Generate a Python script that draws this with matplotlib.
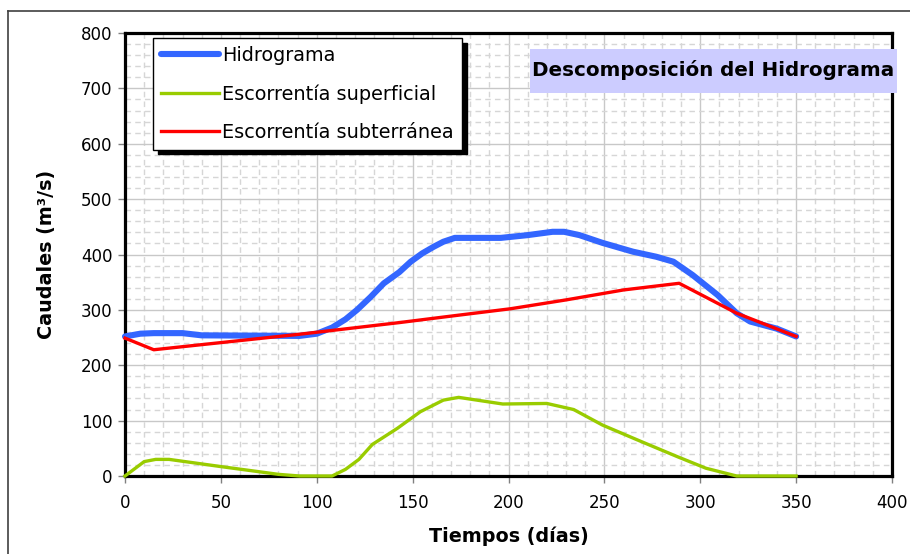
import matplotlib
matplotlib.use('Agg')
import matplotlib.pyplot as plt
from matplotlib.patches import Rectangle
from matplotlib.lines import Line2D
from matplotlib.ticker import MultipleLocator

plt.rcParams['font.family'] = ['DejaVu Sans']

# ---- data ----
dias_hidro = [0, 8, 15, 30, 40, 91, 100, 108, 115, 121, 128, 135, 143, 149, 155, 161,
              166, 172, 196, 210, 223, 229, 237, 249, 265, 277, 286, 296, 309, 319,
              326, 340, 350]
q_hidro = [252, 257, 258, 258, 254, 253, 257, 268, 283, 300, 323, 348, 368, 387, 402, 414,
           423, 430, 430, 435, 441, 441, 435, 421, 405, 396, 387, 363, 327, 294,
           279, 266, 252]

dias_sup = [0, 10, 16, 23, 50, 80, 91, 108, 115, 122, 129, 142, 154, 166, 174, 197,
            220, 234, 249, 268, 288, 303, 319, 350]
q_sup = [0, 26, 30, 30, 17, 3, 0, 0, 12, 30, 57, 86, 116, 137, 142, 130,
         131, 120, 92, 64, 35, 14, 0, 0]

dias_sub = [0, 15, 91, 143, 166, 201, 230, 260, 289, 319, 350]
q_sub = [249, 228, 256, 277, 287, 302, 318, 336, 348, 294, 252]

labels = ['Hidrograma', 'Escorrentía superficial', 'Escorrentía subterránea']
colors = ['#3366FF', '#99CC00', '#FF0000']

W, H = 910, 554
fig = plt.figure(figsize=(W / 100, H / 100), dpi=100)
ax = fig.add_axes([125 / W, 1 - 476 / H, (892 - 125) / W, (476 - 33) / H])
ax.set_xlim(0, 400)
ax.set_ylim(0, 800)
ax.xaxis.set_major_locator(MultipleLocator(50))
ax.xaxis.set_minor_locator(MultipleLocator(10))
ax.yaxis.set_major_locator(MultipleLocator(100))
ax.yaxis.set_minor_locator(MultipleLocator(20))
ax.set_axisbelow(True)
ax.grid(which='major', color='#C8C8C8', lw=1.0, ls='-')
ax.grid(which='minor', color='#D6D6D6', lw=1.0, ls=(0, (4, 3)))
ax.tick_params(which='minor', length=0)
ax.tick_params(which='major', length=5, width=1, color='#808080', labelsize=12,
               direction='out')
ax.tick_params(axis='x', pad=8)
ax.tick_params(axis='y', pad=4)
for sp in ax.spines.values():
    sp.set_linewidth(2.3)
    sp.set_color('black')

l1, = ax.plot(dias_hidro, q_hidro, color=colors[0], lw=4.4, solid_joinstyle='round',
              solid_capstyle='round', zorder=3, clip_on=False)
l2, = ax.plot(dias_sup, q_sup, color=colors[1], lw=2.4, solid_joinstyle='round',
              zorder=3, clip_on=False)
l3, = ax.plot(dias_sub, q_sub, color=colors[2], lw=2.4, solid_joinstyle='round',
              zorder=4, clip_on=False)

leg = ax.legend([l1, l2, l3], labels, loc='upper left',
                bbox_to_anchor=(153 / W, 1 - 38 / H), bbox_transform=fig.transFigure,
                borderaxespad=0, frameon=True, fancybox=False, edgecolor='black',
                framealpha=1, prop={'size': 13.9}, handlelength=3.0, handletextpad=0.2,
                labelspacing=1.0, borderpad=0.4,
                shadow={'ox': 3.4, 'oy': -3.4, 'color': 'black', 'alpha': 1})
leg.get_frame().set_linewidth(1.0)
leg.set_zorder(10)

ax.set_xlabel('Tiempos (días)', fontsize=13.8, fontweight='bold', va='center')
ax.xaxis.set_label_coords(0.5, -(536 - 476) / 443)
ax.set_ylabel('Caudales (m³/s)', fontsize=13.8, fontweight='bold', va='center', ha='center')
ax.yaxis.set_label_coords(-(125 - 47) / 767, 0.5)

# title box
fig.add_artist(Rectangle((530 / W, 1 - 93 / H), 367 / W, 44 / H, transform=fig.transFigure,
                         facecolor='#CCCCFF', edgecolor='none', zorder=5))
fig.text(713.5 / W, 1 - 76 / H, 'Descomposición del Hidrograma', fontsize=14.3,
         fontweight='bold', ha='center', va='baseline', zorder=6)

# outer frame
fig.add_artist(Line2D([8 / W, 1], [1 - 11 / H, 1 - 11 / H], transform=fig.transFigure,
                      color='#404040', lw=1.2))
fig.add_artist(Line2D([8 / W, 8 / W], [0, 1 - 11 / H], transform=fig.transFigure,
                      color='#404040', lw=1.2))

fig.savefig('out.png', dpi=100)
